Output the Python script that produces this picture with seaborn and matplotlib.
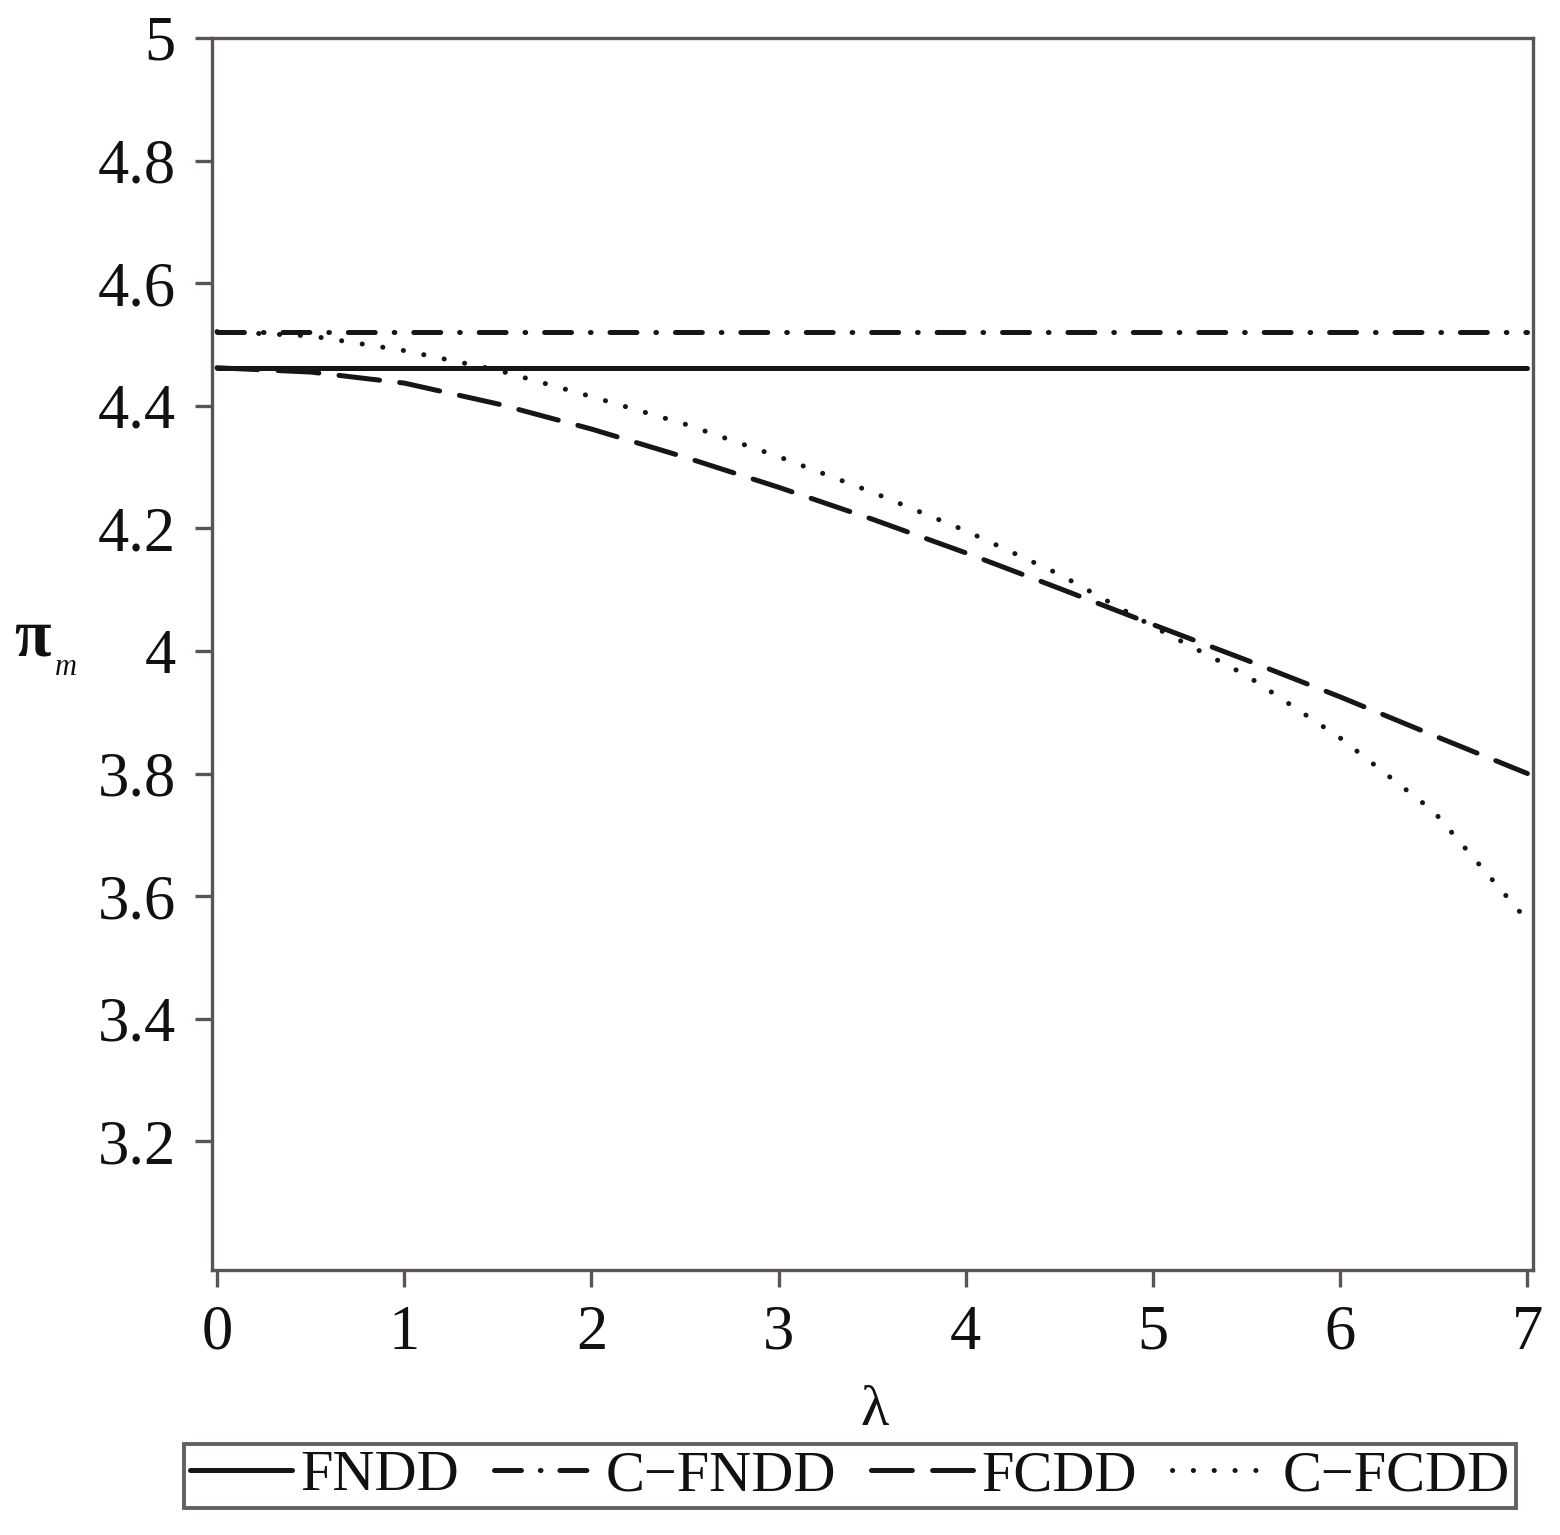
import matplotlib
matplotlib.use("Agg")
import matplotlib.pyplot as plt
import seaborn as sns
import pandas as pd

# ---- data ----
lam = [0, 0.5, 1, 1.5, 2, 2.5, 3, 3.5, 4, 4.5, 5, 5.5, 6, 6.5, 7]
fndd = [4.462] * 15
c_fndd = [4.521] * 15
fcdd = [4.462, 4.455, 4.437, 4.403, 4.362, 4.316, 4.267, 4.215, 4.160,
        4.102, 4.043, 3.985, 3.925, 3.862, 3.800]
c_fcdd = [4.521, 4.514, 4.490, 4.458, 4.415, 4.370, 4.317, 4.259, 4.196,
          4.125, 4.040, 3.960, 3.858, 3.738, 3.560]
series_names = ["FNDD", "C\u2212FNDD", "FCDD", "C\u2212FCDD"]
xticks = [0, 1, 2, 3, 4, 5, 6, 7]
yticks = [3.2, 3.4, 3.6, 3.8, 4.0, 4.2, 4.4, 4.6, 4.8, 5.0]
ytick_labels = ["3.2", "3.4", "3.6", "3.8", "4", "4.2", "4.4", "4.6", "4.8", "5"]

sns.set_theme(style="white")
plt.rcParams["font.family"] = ["Liberation Serif", "DejaVu Serif"]
plt.rcParams["lines.scale_dashes"] = False

W, H = 1560, 1535
fig = plt.figure(figsize=(W / 100, H / 100), dpi=100)
L, R, T, B = 212, 1533, 38, 1270
ax = fig.add_axes([L / W, 1 - B / H, (R - L) / W, (B - T) / H])

line_col = "#161616"
lw = 3.6
styles = [
    "-",
    (0, (19.4, 13.6, 0.5, 13.6)),
    (0, (29.4, 14.6)),
    (0, (0.1, 14.9)),
]
ys = [fndd, c_fndd, fcdd, c_fcdd]
for name, y, ls in zip(series_names, ys, styles):
    df = pd.DataFrame({"lam": lam, "val": y})
    sns.lineplot(data=df, x="lam", y="val", ax=ax, color=line_col,
                 linewidth=lw, linestyle=ls, label=name,
                 dash_capstyle="round", solid_capstyle="round",
                 estimator=None)

ax.set_xlim(-0.027, 7.03)
ax.set_ylim(2.99, 5.0)
ax.set_xticks(xticks)
ax.set_xticklabels([str(v) for v in xticks])
ax.set_yticks(yticks)
ax.set_yticklabels(ytick_labels)

spine_col = "#5a5552"
for s in ax.spines.values():
    s.set_color(spine_col)
    s.set_linewidth(2.4)
ax.tick_params(axis="both", which="major", direction="out", length=12,
               width=2.4, color=spine_col, labelsize=45, labelcolor="#111111")
ax.tick_params(axis="y", pad=14, left=True, right=False)
ax.tick_params(axis="x", pad=13, bottom=True, top=False)

ax.set_xlabel("\u03bb", fontsize=42, color="#111111")
ax.xaxis.set_label_coords(0.502, -0.093)
ax.set_ylabel("")

fig.text(32 / W, 1 - 655 / H, "\u03c0", fontsize=48, fontweight="bold",
         ha="center", va="baseline", color="#111111")
fig.text(55 / W, 1 - 675 / H, "m", fontsize=22, fontstyle="italic",
         ha="left", va="baseline", color="#111111")

leg = ax.legend(loc="center", bbox_to_anchor=(850 / W, 1 - 1476 / H),
                bbox_transform=fig.transFigure, ncol=4, fontsize=42,
                frameon=True, fancybox=False, handlelength=1.75,
                handletextpad=0.15, columnspacing=0.6, borderpad=0.1,
                borderaxespad=0)
frame = leg.get_frame()
frame.set_edgecolor("#3d3937")
frame.set_linewidth(2.8)
for t in leg.get_texts():
    t.set_color("#111111")

fig.savefig("out.png", dpi=100, facecolor="white")
